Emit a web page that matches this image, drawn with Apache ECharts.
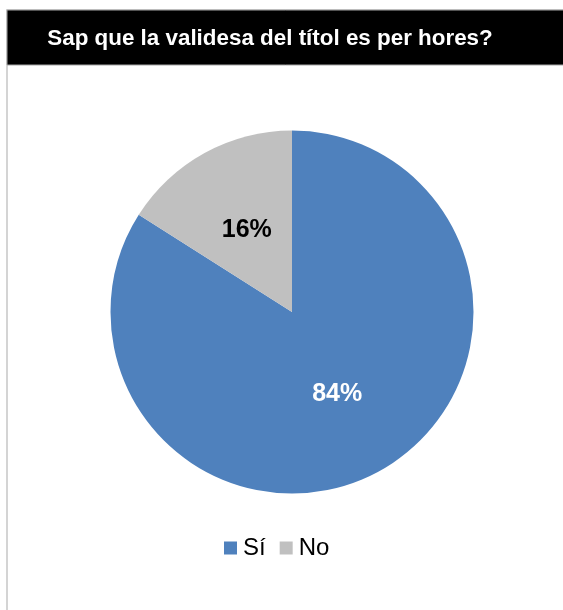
<!DOCTYPE html>
<html>
<head>
<meta charset="utf-8">
<script src="https://cdn.jsdelivr.net/npm/echarts@6/dist/echarts.min.js"></script>
<style>
  html, body { margin: 0; padding: 0; background: #fff; }
  #chart { width: 563px; height: 610px; }
</style>
</head>
<body>
<div id="chart"></div>
<script>
// Survey answers: does the respondent know the ticket is valid by hours?
const titleText = 'Sap que la validesa del títol es per hores?';
const categories = ['Sí', 'No'];
const shares = [84, 16];
const sliceColors = ['#4F81BD', '#C0C0C0'];

const chart = echarts.init(document.getElementById('chart'), null, { renderer: 'canvas' });

chart.setOption({
  animation: false,
  backgroundColor: '#ffffff',
  graphic: [
    // outer frame (left edge visible)
    {
      type: 'rect',
      z: 0,
      shape: { x: 7, y: 10, width: 600, height: 640 },
      style: { fill: '#ffffff', stroke: '#d4d4d4', lineWidth: 2 }
    },
    // black header bar
    {
      type: 'rect',
      z: 1,
      shape: { x: 7, y: 10, width: 600, height: 55 },
      style: { fill: '#000000', stroke: '#a6a6a6', lineWidth: 1 }
    },
    // header caption
    {
      type: 'text',
      z: 5,
      x: 270,
      y: 39,
      style: {
        text: titleText,
        fill: '#ffffff',
        font: 'bold 22.4px "Liberation Sans", Arial, sans-serif',
        align: 'center',
        verticalAlign: 'middle'
      }
    }
  ],
  legend: {
    data: categories,
    left: 219,
    top: 531,
    orient: 'horizontal',
    icon: 'rect',
    itemWidth: 13,
    itemHeight: 13,
    itemGap: 14,
    selectedMode: false,
    textStyle: {
      color: '#000000',
      fontFamily: 'Liberation Sans, Arial, sans-serif',
      fontSize: 24,
      padding: [0, 0, 0, 1]
    }
  },
  series: [
    {
      type: 'pie',
      center: [292, 312],
      radius: [0, 181.5],
      startAngle: 90,
      clockwise: true,
      silent: true,
      data: categories.map((name, i) => ({
        name: name,
        value: shares[i],
        itemStyle: { color: sliceColors[i] },
        label: { color: i === 0 ? '#ffffff' : '#000000' }
      })),
      label: {
        show: true,
        position: 'inner',
        formatter: (p) => p.value + '%',
        fontFamily: 'Liberation Sans, Arial, sans-serif',
        fontWeight: 'bold',
        fontSize: 25
      },
      labelLine: { show: false }
    }
  ]
});
</script>
</body>
</html>
